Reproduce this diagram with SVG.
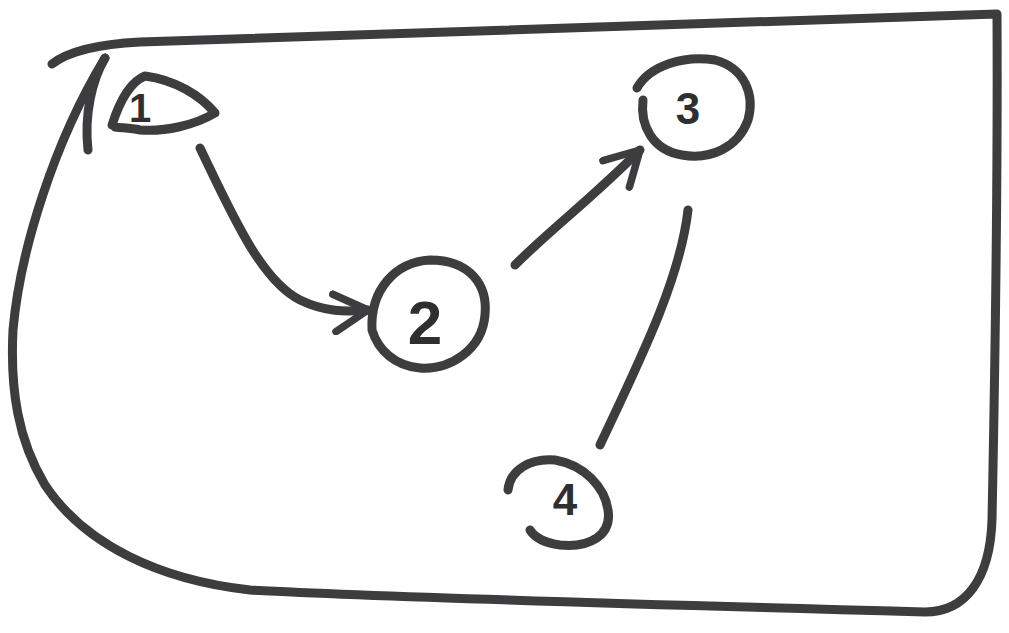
<svg xmlns="http://www.w3.org/2000/svg" width="1009" height="633" viewBox="0 0 1009 633">
<style>
.s{fill:none;stroke:#3d3d40;stroke-width:9;stroke-linecap:round;stroke-linejoin:round}
.t{font-family:"Liberation Sans",Arial,sans-serif;font-weight:bold;fill:#2f2f32;text-anchor:middle}
</style>
<defs>
<marker id="ah" viewBox="0 0 12 12" refX="10" refY="6" markerWidth="5" markerHeight="5" orient="auto" markerUnits="strokeWidth">
<path d="M1,1 L10,6 L1,11" fill="none" stroke="#3d3d40" stroke-width="2" stroke-linecap="round" stroke-linejoin="round"/>
</marker>
</defs>
<rect width="1009" height="633" fill="#ffffff"/>
<g id="frame">
<path class="s" d="M52,64 C70,50 100,44 140,42 L997,14 C998,200 994,420 992,520 C990,580 965,612 925,612 C700,606 400,598 250,590 C160,580 85,545 45,485 C18,440 10,390 13,330 C20,250 55,140 105,58"/>
</g>
<g id="node1">
<path class="s" d="M105,58 C92,80 84,115 88,150"/>
<path class="s" d="M112,125 C120,100 130,82 145,76 C175,80 200,95 215,113 C195,125 165,132 140,130 C130,128 122,128 115,127"/>
<text class="t" x="140" y="122" font-size="40">1</text>
</g>
<g id="node2">
<path class="s" d="M372,330 C370,290 395,262 430,260 C470,260 488,285 485,315 C482,350 450,370 420,368 C395,366 378,350 372,330"/>
<text class="t" x="425" y="344" font-size="62">2</text>
</g>
<g id="node3">
<path class="s" d="M637,88 C650,65 685,55 715,60 C745,68 755,95 748,120 C738,148 710,160 682,155 C652,150 640,125 643,100"/>
<text class="t" x="688" y="124" font-size="44">3</text>
</g>
<g id="node4">
<path class="s" d="M508,490 C510,470 530,458 555,460 C585,465 605,488 608,510 C612,535 590,548 560,545 C545,543 535,538 530,530"/>
<text class="t" x="565" y="515" font-size="44">4</text>
</g>
<g id="connectors">
<path class="s" d="M200,148 C230,210 260,280 300,300 C325,312 345,312 368,310" marker-end="url(#ah)"/>
<path class="s" d="M515,265 C550,230 590,200 640,150" marker-end="url(#ah)"/>
<path class="s" d="M688,210 C680,280 640,360 600,445"/>
</g>
</svg>
